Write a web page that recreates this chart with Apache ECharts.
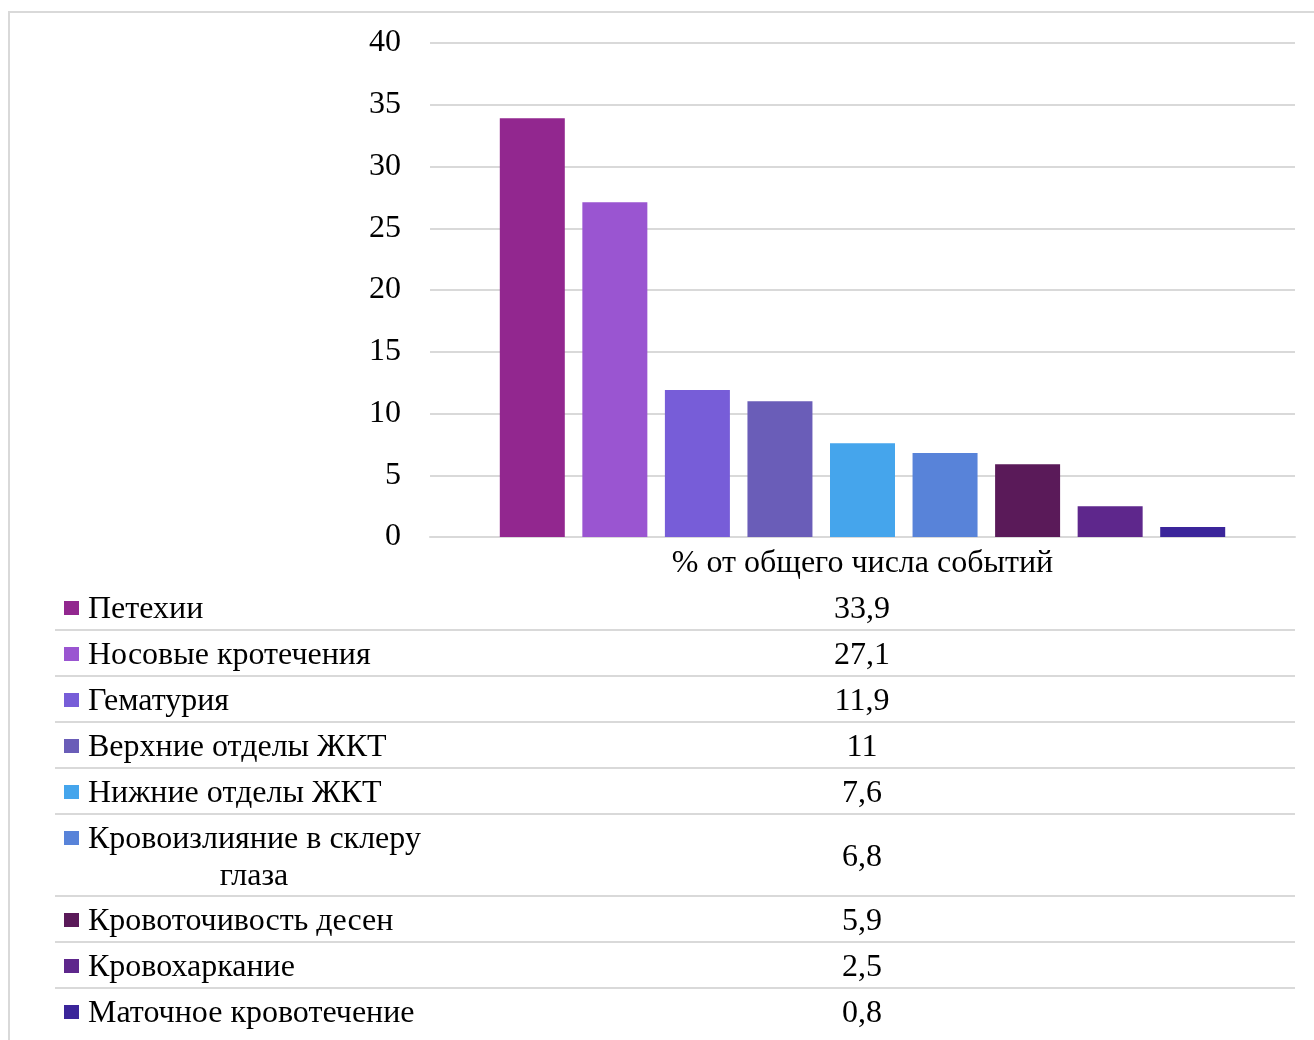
<!DOCTYPE html>
<html>
<head>
<meta charset="utf-8">
<script src="https://cdn.jsdelivr.net/npm/echarts@6/dist/echarts.min.js"></script>
<style>
html,body{margin:0;padding:0;background:#fff;}
#chart{width:1314px;height:1040px;}
</style>
</head>
<body>
<div id="chart"></div>
<script>
var categoryLabel = '% от общего числа событий';
var seriesNames = ['Петехии','Носовые кротечения','Гематурия','Верхние отделы ЖКТ','Нижние отделы ЖКТ','Кровоизлияние в склеру глаза','Кровоточивость десен','Кровохаркание','Маточное кровотечение'];
var seriesValues = [33.9, 27.1, 11.9, 11, 7.6, 6.8, 5.9, 2.5, 0.8];
var seriesColors = ['#92278f','#9a55d1','#775dd8','#6a5db8','#45a5ec','#5883d9','#5a1a59','#5e278c','#3b259a'];
var yTicks = [0, 40, 5];

var FONT = '"Liberation Serif","Times New Roman",serif';
var FS = 32;

var series = seriesNames.map(function(n, i){
  return {
    type: 'bar', name: n, data: [seriesValues[i]],
    barWidth: 65, barGap: '27%',
    itemStyle: {color: seriesColors[i]},
    silent: true
  };
});

// data table layout
var graphics = [];
graphics.push({type:'rect', shape:{x:9,y:12,width:1330,height:1060}, style:{fill:'none', stroke:'#d9d9d9', lineWidth:2}, silent:true});
var rowTop = 584, rowH = 46, tallH = 82;
var y = rowTop;
seriesNames.forEach(function(n, i){
  var tall = n.length > 24;
  var h = tall ? tallH : rowH;
  var c1 = y + 24;
  var t1 = y + 26;
  graphics.push({type:'rect', shape:{x:64,y:c1-7,width:15,height:14}, style:{fill:seriesColors[i]}, silent:true});
  if (tall) {
    var parts = ['Кровоизлияние в склеру', 'глаза'];
    graphics.push({type:'text', x:88, y:t1, style:{text:parts[0], font:FS+'px '+FONT, fill:'#000', textVerticalAlign:'middle', textAlign:'left'}, silent:true});
    graphics.push({type:'text', x:254, y:t1+37, style:{text:parts[1], font:FS+'px '+FONT, fill:'#000', textVerticalAlign:'middle', textAlign:'center'}, silent:true});
  } else {
    graphics.push({type:'text', x:88, y:t1, style:{text:n, font:FS+'px '+FONT, fill:'#000', textVerticalAlign:'middle', textAlign:'left'}, silent:true});
  }
  graphics.push({type:'text', x:862, y:y + h/2 + 3, style:{text:String(seriesValues[i]).replace('.', ','), font:FS+'px '+FONT, fill:'#000', textVerticalAlign:'middle', textAlign:'center'}, silent:true});
  y += h;
  if (i < seriesNames.length - 1) {
    graphics.push({type:'line', shape:{x1:55,y1:y,x2:1295,y2:y}, style:{stroke:'#d9d9d9', lineWidth:2}, silent:true});
  }
});

var chart = echarts.init(document.getElementById('chart'), null, {renderer:'canvas'});
chart.setOption({
  backgroundColor: '#fff',
  animation: false,
  grid: {left: 430, right: 19, top: 43, bottom: 503, containLabel: false},
  xAxis: {
    type: 'category', data: [categoryLabel],
    axisLine: {show: true, lineStyle: {color: '#d9d9d9', width: 2}},
    axisTick: {show: false},
    axisLabel: {fontFamily: FONT, fontSize: FS, color: '#000', margin: 11}
  },
  yAxis: {
    type: 'value', min: yTicks[0], max: yTicks[1], interval: yTicks[2],
    axisLine: {show: false}, axisTick: {show: false},
    splitLine: {lineStyle: {color: '#d9d9d9', width: 2}},
    axisLabel: {fontFamily: FONT, fontSize: FS, color: '#000', margin: 29, padding: [7,0,0,0]}
  },
  series: series,
  graphic: graphics
});
</script>
</body>
</html>
